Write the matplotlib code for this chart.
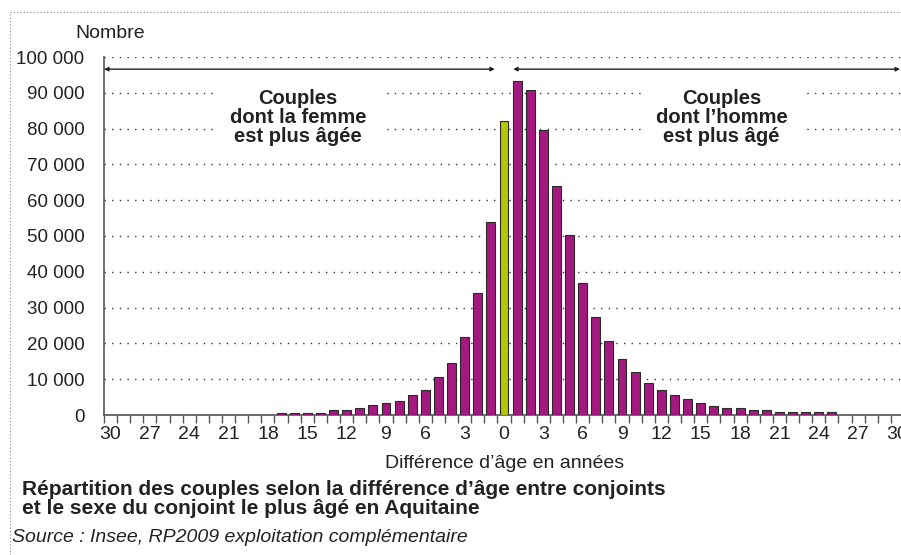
import matplotlib
matplotlib.use('Agg')
import matplotlib.pyplot as plt
from matplotlib.lines import Line2D

plt.rcParams['font.family'] = ['Liberation Sans', 'DejaVu Sans']

# Différence d'âge : la femme est plus âgée (30 -> 1), égalité (0), l'homme est plus âgé (1 -> 30)
femme_plus_agee = [0, 0, 0, 0, 0, 0, 0, 0, 0, 0, 0, 0, 0,
                   600, 600, 600, 600, 1400, 1400, 2000, 2700, 3300, 3900,
                   5700, 7000, 10700, 14400, 21800, 34000, 54000]
meme_age = 82100
homme_plus_age = [93400, 90800, 79600, 64000, 50200, 37000, 27500, 20600, 15700, 12000,
                  8800, 7000, 5700, 4500, 3300, 2600, 2000, 2000, 1400, 1400,
                  750, 750, 750, 750, 750, 0, 0, 0, 0, 0]
tick_labels = [str(v) for v in range(30, 0, -3)] + ['0'] + [str(v) for v in range(3, 31, 3)]

valeurs = femme_plus_agee + [meme_age] + homme_plus_age
x = list(range(len(valeurs)))
couleurs = ['#a3197f'] * 30 + ['#b3c800'] + ['#a3197f'] * 30

fig = plt.figure(figsize=(9.01, 5.55), dpi=100)
# axes un peu plus large que la figure : le "30" de droite est coupé comme sur l'original
ax = fig.add_axes([104 / 901, 140 / 555, 800 / 901, 358 / 555])

ax.bar(x, valeurs, width=0.68, color=couleurs, edgecolor='#2a2a2a', linewidth=0.8, zorder=3)

ax.set_xlim(-0.5, 60.5)
ax.set_ylim(0, 100000)

# graduations : traits entre les catégories, libellés tous les 3 ans
ax.set_xticks([i - 0.5 for i in range(62)])
ax.set_xticklabels([])
ax.set_xticks(list(range(0, 61, 3)), minor=True)
ax.set_xticklabels(tick_labels, minor=True, fontsize=14, color='#222222')
ax.tick_params(axis='x', which='major', length=6, width=1, color='#555555', direction='out')
ax.tick_params(axis='x', which='minor', length=0, pad=8)

yticks = list(range(0, 100001, 10000))
ax.set_yticks(yticks)
ax.set_yticklabels([f'{v:,}'.replace(',', ' ') for v in yticks], fontsize=13.5, color='#222222')
ax.tick_params(axis='y', length=0, pad=14)

ax.yaxis.grid(True, color='#333333', linestyle=(0, (1, 4.5)), linewidth=1)
ax.set_axisbelow(True)

for s in ['top', 'right']:
    ax.spines[s].set_visible(False)
for s in ['left', 'bottom']:
    ax.spines[s].set_color('#555555')
    ax.spines[s].set_linewidth(1.2)

# flèches
arrow = dict(arrowstyle='<|-|>', color='#222222', lw=1, mutation_scale=6, shrinkA=0, shrinkB=0)
ax.annotate('', xy=(-0.5, 96600), xytext=(29.3, 96600), arrowprops=arrow, annotation_clip=False)
ax.annotate('', xy=(30.7, 96600), xytext=(60.2, 96600), arrowprops=arrow, annotation_clip=False)

box = dict(facecolor='white', edgecolor='none', pad=11)
ax.text(14.3, 83200, 'Couples\ndont la femme\nest plus âgée', ha='center', va='center',
        fontsize=14.5, fontweight='bold', color='#222222', linespacing=1.0, bbox=box, zorder=4)
ax.text(46.6, 83200, 'Couples\ndont l\u2019homme\nest plus âgé', ha='center', va='center',
        fontsize=14.5, fontweight='bold', color='#222222', linespacing=1.0, bbox=box, zorder=4)

fig.text(110 / 901, 1 - 33 / 555, 'Nombre', ha='center', va='center', fontsize=14, color='#222222')
fig.text(505 / 901, 1 - 463 / 555, 'Différence d\u2019âge en années', ha='center', va='center',
         fontsize=14, color='#222222')
fig.text(22 / 901, 1 - 499 / 555,
         'Répartition des couples selon la différence d\u2019âge entre conjoints\n'
         'et le sexe du conjoint le plus âgé en Aquitaine',
         ha='left', va='center', fontsize=15, fontweight='bold', color='#222222', linespacing=1.02)
fig.text(12 / 901, 1 - 538 / 555, 'Source : Insee, RP2009 exploitation complémentaire',
         ha='left', va='center', fontsize=14, style='italic', color='#222222')

# cadre pointillé
cadre = dict(color='#888888', linestyle=(0, (1, 2)), linewidth=0.8)
fig.add_artist(Line2D([10 / 901, 10 / 901], [0, 1 - 12 / 555], transform=fig.transFigure, **cadre))
fig.add_artist(Line2D([10 / 901, 1], [1 - 12 / 555, 1 - 12 / 555], transform=fig.transFigure, **cadre))

fig.savefig('out.png', dpi=100)
